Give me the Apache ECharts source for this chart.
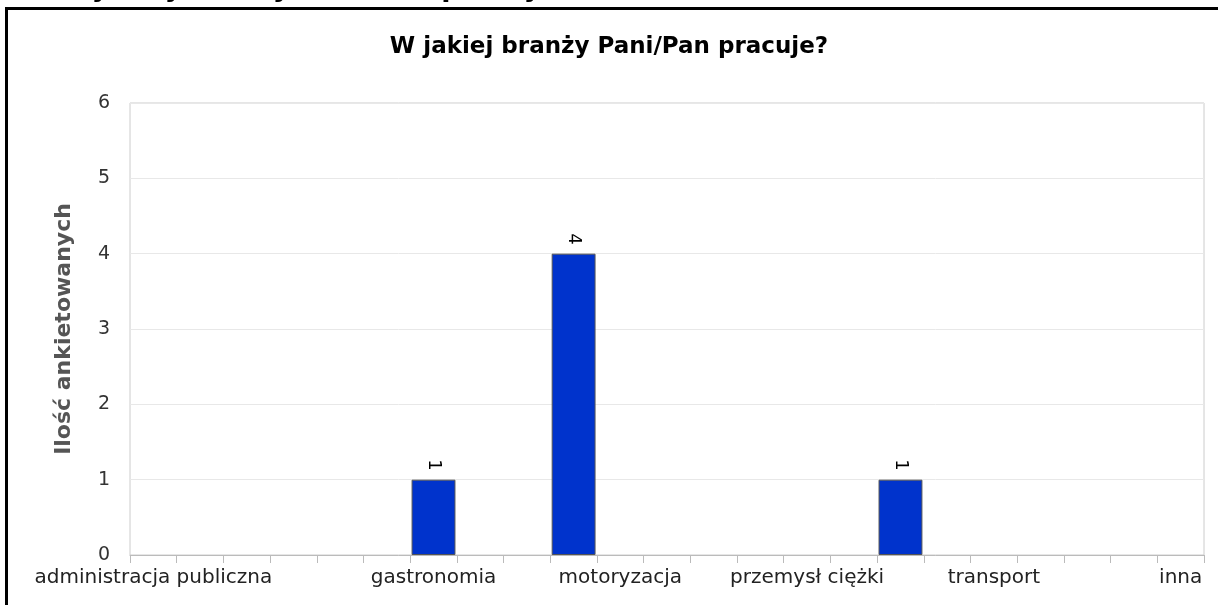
<!DOCTYPE html>
<html>
<head>
<meta charset="utf-8">
<script src="https://cdn.jsdelivr.net/npm/echarts@6/dist/echarts.min.js"></script>
<style>
  html, body { margin: 0; padding: 0; background: #fff; }
  #chart { width: 1218px; height: 605px; }
</style>
</head>
<body>
<div id="chart"></div>
<script>
var chartDom = document.getElementById('chart');
var myChart = echarts.init(chartDom);

// dane z ankiety
var categories = ['administracja publiczna', '', '', '', '', '', 'gastronomia', '', '', '',
    'motoryzacja', '', '', '', 'przemysł ciężki', '', '', '', 'transport', '', '', '', 'inna'];
var counts = [0, 0, 0, 0, 0, 0, 1, 0, 0, 4, 0, 0, 0, 0, 0, 0, 1, 0, 0, 0, 0, 0, 0];
var yTicks = [0, 1, 2, 3, 4, 5, 6];
var chartTitle = 'W jakiej branży Pani/Pan pracuje?';
var yName = 'Ilość ankietowanych';

var barData = counts.map(function (v) {
    return v > 0 ? v : { value: v, itemStyle: { borderWidth: 0 } };
});

var option = {
    backgroundColor: '#fff',
    animation: false,
    title: {
        text: chartTitle,
        left: 'center',
        top: 31,
        textStyle: { fontFamily: 'DejaVu Sans', fontWeight: 'bold', fontSize: 23, color: '#000' }
    },
    graphic: [
        {
            type: 'text',
            x: 56,
            y: 2,
            style: {
                text: chartTitle, font: 'bold 27px "DejaVu Sans"', fill: '#000',
                verticalAlign: 'bottom'
            },
            z: -5
        },
        {
            type: 'rect',
            shape: { x: 6.5, y: 8.5, width: 1400, height: 800 },
            style: { fill: '#fff', stroke: '#000', lineWidth: 3 },
            z: -10
        }
    ],
    grid: {
        left: 130, right: 14, top: 103, bottom: 50,
        show: true, borderColor: '#cccccc', borderWidth: 1
    },
    xAxis: {
        type: 'category',
        data: categories,
        axisLine: { lineStyle: { color: '#bbbbbb' } },
        axisTick: { show: true, interval: 0, length: 8, lineStyle: { color: '#bbbbbb' } },
        axisLabel: {
            interval: 0, margin: 13,
            fontFamily: 'DejaVu Sans', fontSize: 20, color: '#222'
        }
    },
    yAxis: {
        type: 'value',
        min: yTicks[0], max: yTicks[yTicks.length - 1], interval: 1,
        name: yName,
        nameLocation: 'middle',
        nameGap: 55,
        nameTextStyle: { fontFamily: 'DejaVu Sans', fontWeight: 'bold', fontSize: 22, color: '#555' },
        axisLine: { show: false },
        axisTick: { show: false },
        axisLabel: { margin: 20, fontFamily: 'DejaVu Sans', fontSize: 19, color: '#333' },
        splitLine: { lineStyle: { color: '#e8e8e8' } }
    },
    series: [
        {
            type: 'bar',
            data: barData,
            barCategoryGap: '6%',
            itemStyle: { color: '#0033cc', borderColor: '#555', borderWidth: 1 },
            label: {
                show: true,
                position: 'top',
                rotate: -90,
                align: 'right',
                verticalAlign: 'middle',
                distance: 9,
                fontFamily: 'DejaVu Sans',
                fontSize: 18,
                color: '#000',
                formatter: function (p) { return p.value > 0 ? p.value : ''; }
            }
        }
    ]
};

myChart.setOption(option);
</script>
</body>
</html>
